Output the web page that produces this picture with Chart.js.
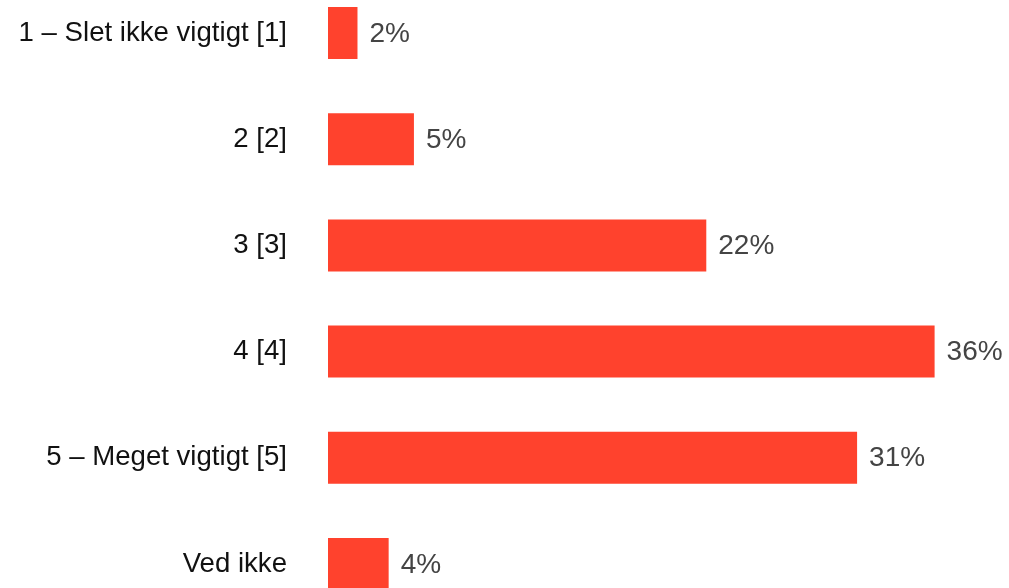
<!DOCTYPE html>
<html>
<head>
<meta charset="utf-8">
<script src="https://cdn.jsdelivr.net/npm/chart.js@4"></script>
<style>
  html, body { margin: 0; padding: 0; background: #fff; overflow: hidden; }
  #wrap { position: absolute; left: 0; top: -20px; width: 1009px; height: 637px; }
</style>
</head>
<body>
<div id="wrap"><canvas id="chart"></canvas></div>
<script>
const categories = ['1 – Slet ikke vigtigt [1]', '2 [2]', '3 [3]', '4 [4]', '5 – Meget vigtigt [5]', 'Ved ikke'];
const shares = [1.75, 5.1, 22.45, 36.0, 31.4, 3.6];
const valueLabels = ['2%', '5%', '22%', '36%', '31%', '4%'];

const fontFamily = '"Liberation Sans", Arial, sans-serif';

// draws the percentage text just right of each bar
const barLabels = {
  id: 'barLabels',
  afterDatasetsDraw(chart) {
    const ctx = chart.ctx;
    const meta = chart.getDatasetMeta(0);
    ctx.save();
    ctx.font = '28px ' + fontFamily;
    ctx.fillStyle = '#444444';
    ctx.textAlign = 'left';
    ctx.textBaseline = 'middle';
    meta.data.forEach((bar, i) => {
      ctx.fillText(valueLabels[i], bar.x + 12, bar.y + 1);
    });
    ctx.restore();
  }
};

new Chart(document.getElementById('chart'), {
  type: 'bar',
  data: {
    labels: categories,
    datasets: [{
      data: shares,
      backgroundColor: '#FF422D',
      categoryPercentage: 1,
      barPercentage: 0.49
    }]
  },
  plugins: [barLabels],
  options: {
    indexAxis: 'y',
    responsive: true,
    maintainAspectRatio: false,
    animation: false,
    layout: { padding: { left: 0, right: 7, top: 0, bottom: 0 } },
    plugins: { legend: { display: false }, tooltip: { enabled: false } },
    scales: {
      x: { display: false, min: 0, max: 40 },
      y: {
        grid: { display: false, drawTicks: false },
        border: { display: false },
        ticks: {
          color: '#111111',
          padding: 41,
          font: { family: fontFamily, size: 27.6 }
        },
        afterFit(scale) {
          scale.width = 328;
          scale.paddingTop = 0;
          scale.paddingBottom = 0;
        }
      }
    }
  }
});
</script>
</body>
</html>
